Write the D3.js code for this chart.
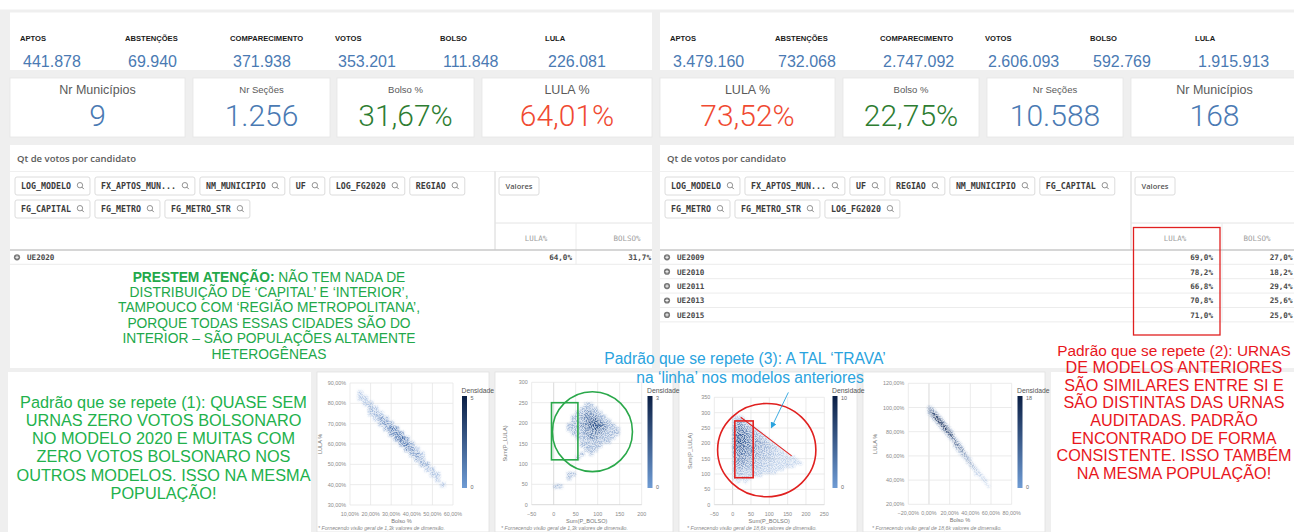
<!DOCTYPE html>
<html><head><meta charset="utf-8">
<script src="https://cdn.jsdelivr.net/npm/d3@7"></script>
<style>html,body{margin:0;padding:0;background:#fff;overflow:hidden}svg{display:block}</style>
</head><body>
<svg id="c" width="1294" height="532"></svg>
<script>
// ---------------- DATA ----------------
const kpiLabels = ["APTOS","ABSTENÇÕES","COMPARECIMENTO","VOTOS","BOLSO","LULA"];
const kpiLeftValues = [441878, 69940, 371938, 353201, 111848, 226081];
const kpiRightValues = [3479160, 732068, 2747092, 2606093, 592769, 1915913];
const cardLeftTitles = ["Nr Municípios","Nr Seções","Bolso %","LULA %"];
const cardLeftValues = [9, 1256, 31.67, 64.01];
const cardRightTitles = ["LULA %","Bolso %","Nr Seções","Nr Municípios"];
const cardRightValues = [73.52, 22.75, 10588, 168];
const chipsLeft = ["LOG_MODELO","FX_APTOS_MUN...","NM_MUNICIPIO","UF","LOG_FG2020","REGIAO","FG_CAPITAL","FG_METRO","FG_METRO_STR"];
const chipsRight = ["LOG_MODELO","FX_APTOS_MUN...","UF","REGIAO","NM_MUNICIPIO","FG_CAPITAL","FG_METRO","FG_METRO_STR","LOG_FG2020"];
const measureCols = ["LULA%","BOLSO%"];
const modelsLeft = ["UE2020"];
const lulaPctLeft = [64.0];
const bolsoPctLeft = [31.7];
const modelsRight = ["UE2009","UE2010","UE2011","UE2013","UE2015"];
const lulaPctRight = [69.0, 78.2, 66.8, 70.8, 71.0];
const bolsoPctRight = [27.0, 18.2, 29.4, 25.6, 25.0];

// chart 1: [Bolso %, LULA %, density]  (UE2020, 1,3k)
const chart1Cells = [
 [15,82.5,1],[15,85,1],[17.5,80,1],[17.5,82.5,1],[20,77.5,2],[20,80,1],[20,75,1],
 [22.5,75,2],[22.5,77.5,1],[22.5,72.5,1],[25,72.5,3],[25,75,1],[25,70,2],
 [27.5,70,3],[27.5,72.5,2],[27.5,67.5,2],[30,67.5,4],[30,70,2],[30,65,3],
 [32.5,65,4],[32.5,67.5,3],[32.5,62.5,3],[35,62.5,5],[35,65,3],[35,60,3],
 [37.5,60,4],[37.5,62.5,3],[37.5,57.5,3],[40,57.5,3],[40,60,2],[40,55,2],
 [42.5,55,3],[42.5,57.5,1],[42.5,52.5,2],[45,52.5,2],[45,55,1],[45,50,2],
 [47.5,50,2],[47.5,47.5,1],[50,47.5,1],[50,45,1],[52.5,42.5,1],[52.5,45,1],[55,40,1]
];
// chart 2: [Sum(P_BOLSO), Sum(P_LULA), density]
const chart2Cells = [
 [75,245,1],[85,245,1],
 [65,235,1],[75,235,1],[85,235,1],[95,235,1],
 [55,225,1],[65,225,1],[75,225,2],[85,225,2],[95,225,1],[105,225,1],
 [45,215,1],[55,215,1],[65,215,2],[75,215,2],[85,215,2],[95,215,2],[105,215,1],[115,215,1],
 [45,205,1],[55,205,1],[65,205,1],[75,205,2],[85,205,3],[95,205,3],[105,205,2],[115,205,1],[125,205,1],
 [35,195,1],[45,195,1],[55,195,1],[65,195,2],[75,195,2],[85,195,3],[95,195,3],[105,195,3],[115,195,2],[125,195,1],[135,195,1],
 [35,185,1],[45,185,1],[55,185,1],[65,185,1],[75,185,2],[85,185,2],[95,185,3],[105,185,2],[115,185,2],[125,185,1],[135,185,1],[145,185,1],
 [45,175,1],[55,175,1],[65,175,1],[75,175,2],[85,175,2],[95,175,2],[105,175,2],[115,175,1],[125,175,1],[135,175,1],[145,175,1],
 [55,165,1],[65,165,1],[75,165,1],[85,165,2],[95,165,2],[105,165,1],[115,165,1],[125,165,1],[135,165,1],
 [65,155,1],[75,155,1],[85,155,1],[95,155,1],[105,155,1],[115,155,1],[125,155,1],
 [65,145,1],[75,145,1],[85,145,1],[95,145,1],[105,145,1],
 [75,135,1],[85,135,1],[95,135,1],[65,125,1],[85,125,1],[55,115,1],
 [35,75,1],[45,75,1],[35,65,1],[5,45,1],[15,45,1]
];
// chart 3: density grid, Sum(P_BOLSO) bins x Sum(P_LULA) bins
const chart3XBins = [5,15,25,35,45,55,65,75,85,95,105,115,125,135,145,155,165,175,185,195];
const chart3YBins = [285,275,265,255,245,235,225,215,205,195,185,175,165,155,145,135,125,115,105,95,85,75];
const chart3Density = [
 [1,2,1,0,0,0,0,0,0,0,0,0,0,0,0,0,0,0,0,0],
 [2,4,3,1,0,0,0,0,0,0,0,0,0,0,0,0,0,0,0,0],
 [3,6,5,3,1,0,0,0,0,0,0,0,0,0,0,0,0,0,0,0],
 [4,7,7,5,3,1,0,0,0,0,0,0,0,0,0,0,0,0,0,0],
 [5,8,8,6,4,3,1,0,0,0,0,0,0,0,0,0,0,0,0,0],
 [6,9,9,7,5,4,3,1,0,0,0,0,0,0,0,0,0,0,0,0],
 [6,9,9,8,6,5,4,3,1,0,0,0,0,0,0,0,0,0,0,0],
 [7,10,9,8,7,6,5,4,3,1,0,0,0,0,0,0,0,0,0,0],
 [7,10,10,8,7,6,6,5,4,2,1,0,0,0,0,0,0,0,0,0],
 [7,9,9,8,7,6,6,5,4,3,2,1,0,0,0,0,0,0,0,0],
 [6,9,9,8,7,6,5,5,4,3,3,2,1,0,0,0,0,0,0,0],
 [6,8,8,7,6,6,5,4,4,3,3,2,2,1,0,0,0,0,0,0],
 [5,8,8,7,6,5,5,4,3,3,2,2,2,1,1,0,0,0,0,0],
 [5,7,7,6,5,5,4,4,3,3,2,2,1,1,1,1,1,0,0,0],
 [4,7,7,6,5,4,4,3,3,2,2,2,1,1,1,1,1,1,0,0],
 [4,6,6,5,4,4,3,3,2,2,2,1,1,1,1,1,1,1,1,0],
 [3,5,5,4,4,3,3,2,2,2,1,1,1,1,1,1,1,0,0,0],
 [2,4,4,3,3,2,2,2,1,1,1,1,1,1,0,0,0,0,0,0],
 [2,3,3,2,2,2,1,1,1,1,1,1,0,0,0,0,0,0,0,0],
 [1,2,2,1,1,1,1,1,0,0,0,0,0,0,0,0,0,0,0,0],
 [1,1,1,1,1,0,0,0,0,0,0,0,0,0,0,0,0,0,0,0],
 [0,1,0,1,0,0,0,0,0,0,0,0,0,0,0,0,0,0,0,0]
];
// chart 4: [Bolso %, LULA %, density]  (18,6k)
const chart4Cells = [
 [0,100,6],[0,97.5,8],[0,95,3],
 [2.5,97.5,12],[2.5,95,14],[2.5,100,4],[2.5,92.5,4],
 [5,95,15],[5,92.5,16],[5,97.5,5],[5,90,5],
 [7.5,92.5,17],[7.5,90,18],[7.5,95,6],[7.5,87.5,5],
 [10,90,18],[10,87.5,17],[10,92.5,6],[10,85,5],
 [12.5,87.5,18],[12.5,85,16],[12.5,90,6],[12.5,82.5,5],
 [15,85,17],[15,82.5,16],[15,87.5,5],[15,80,5],
 [17.5,82.5,16],[17.5,80,15],[17.5,85,5],[17.5,77.5,4],
 [20,80,15],[20,77.5,14],[20,82.5,4],[20,75,4],
 [22.5,77.5,14],[22.5,75,13],[22.5,72.5,4],[22.5,80,3],
 [25,72.5,13],[25,70,11],[25,75,5],[25,67.5,3],
 [27.5,70,12],[27.5,67.5,10],[27.5,72.5,4],[27.5,65,3],
 [30,67.5,11],[30,65,9],[30,70,3],[30,62.5,3],
 [32.5,65,10],[32.5,62.5,8],[32.5,60,3],[32.5,67.5,2],
 [35,60,8],[35,62.5,7],[35,57.5,3],
 [37.5,57.5,7],[37.5,55,6],[37.5,60,2],[40,55,6],[40,52.5,5],[40,57.5,1],
 [42.5,52.5,5],[42.5,50,4],[45,50,3],[45,47.5,3],[45,45,1],[47.5,47.5,2],[47.5,45,2],
 [50,45,2],[50,42.5,1],[52.5,42.5,1],[52.5,40,1],[55,40,1],[55,37.5,1],[57.5,35,1]
];
const densityMax = [5, 3, 10, 18];
// annotations (data units)
const chart2Box = [-5, 55, 110, 250];
const chart2Circle = [88, 179, 91, 98];
const chart3Box = [6, 56, 88, 273];
const chart3Circle = [93, 178, 134, 152];
const chart3Line = [[22, 285], [161, 159]];
const chart3Arrow = [[152, 366], [106, 252]];

const noteTable = ["NÃO TEM NADA DE","DISTRIBUIÇÃO DE ‘CAPITAL’ E ‘INTERIOR’,","TAMPOUCO COM ‘REGIÃO METROPOLITANA’,","PORQUE TODAS ESSAS CIDADES SÃO DO","INTERIOR – SÃO POPULAÇÕES ALTAMENTE","HETEROGÊNEAS"];
const noteGreen = ["Padrão que se repete (1): QUASE SEM","URNAS ZERO VOTOS BOLSONARO","NO MODELO 2020 E MUITAS COM","ZERO VOTOS BOLSONARO NOS","OUTROS MODELOS. ISSO NA MESMA","POPULAÇÃO!"];
const noteBlue = ["Padrão que se repete (3): A TAL ‘TRAVA’","na ‘linha’ nos modelos anteriores"];
const noteRed = ["Padrão que se repete (2): URNAS","DE MODELOS ANTERIORES","SÃO SIMILARES ENTRE SI E","SÃO DISTINTAS DAS URNAS","AUDITADAS. PADRÃO","ENCONTRADO DE FORMA","CONSISTENTE. ISSO TAMBÉM","NA MESMA POPULAÇÃO!"];

// ---------------- DRAW ----------------
const loc = d3.formatLocale({decimal:",", thousands:".", grouping:[3], currency:["R$",""]});
const fInt = loc.format(",d");
const fP2 = v => loc.format(".2f")(v) + "%";
const fP1 = v => loc.format(".1f")(v) + "%";
const SANS = "'Liberation Sans', Arial, sans-serif";
const MONO = "'DejaVu Sans Mono', monospace";
const BLUE = "#4a7ab3", GREEN = "#2e7d32", RED = "#f04a32";

const svg = d3.select("#c");
const defs = svg.append("defs");
svg.append("rect").attr("width",1294).attr("height",532).attr("fill","#efefef");
svg.append("rect").attr("width",1294).attr("height",9.5).attr("fill","#fff");
function panel(x,y,w,h,stroke){
  return svg.append("rect").attr("x",x).attr("y",y).attr("width",w).attr("height",h)
    .attr("fill","#fff").attr("stroke",stroke||"none").attr("stroke-width",0.8);
}

// top KPI strips
[[10, kpiLeftValues],[660, kpiRightValues]].forEach(([px, vals]) => {
  panel(px, 12.5, px===10?642:640, 57.5);
  const g = svg.append("g");
  g.selectAll("text.l").data(kpiLabels).join("text").attr("class","l")
    .attr("x",(d,i)=>px+10+i*105).attr("y",40.5).text(d=>d)
    .attr("font-family",SANS).attr("font-weight","bold").attr("font-size",7.6).attr("fill","#1a1a1a");
  g.selectAll("text.v").data(vals).join("text").attr("class","v")
    .attr("x",(d,i)=>px+13+i*105).attr("y",67).text(d=>fInt(d))
    .attr("font-family",SANS).attr("font-size",16).attr("fill",BLUE);
});

// KPI cards
const cardsL = [[10,185],[193,330],[337,474],[482,652]];
const cardsR = [[660,835],[843,979],[987,1123],[1131,1300]];
function card(box, title, value, kind){
  panel(box[0],78,box[1]-box[0],59,"#e6e6e6");
  const cx = box[1] > 1294 ? (box[0]+1294)/2 + 2 : (box[0]+box[1])/2;
  const big = (title==="Nr Municípios"||title==="LULA %");
  svg.append("text").attr("x",cx).attr("y",big?93.5:92.5).attr("text-anchor","middle")
    .attr("font-family",SANS).attr("font-size",big?12.5:9.5).attr("fill","#5a5a5a").text(title);
  let txt, col;
  if (kind==="pct") { txt = fP2(value); col = title.startsWith("LULA")?RED:GREEN; }
  else { txt = fInt(value); col = BLUE; }
  svg.append("text").attr("x",cx).attr("y",126).attr("text-anchor","middle")
    .attr("font-family","Roboto, sans-serif").attr("font-weight",300).attr("font-size",30).attr("fill",col).text(txt);
}
const kindsL = ["int","int","pct","pct"], kindsR = ["pct","pct","int","int"];
cardsL.forEach((b,i)=>card(b, cardLeftTitles[i], cardLeftValues[i], kindsL[i]));
cardsR.forEach((b,i)=>card(b, cardRightTitles[i], cardRightValues[i], kindsR[i]));

// tables
function table(px, pw, divX, sepX, chips, rows, lula, bolso, lulaRX, bolsoRX, lulaCX, bolsoCX){
  panel(px,145,pw,223);
  const g = svg.append("g");
  g.append("text").attr("x",px+7).attr("y",161.5).text("Qt de votos por candidato")
    .attr("font-family","'Open Sans', sans-serif").attr("font-weight",600).attr("font-size",9.5).attr("fill","#5a5a5a");
  g.append("line").attr("x1",px).attr("x2",px+pw).attr("y1",171.5).attr("y2",171.5).attr("stroke","#f0f0f0");
  g.append("line").attr("x1",divX).attr("x2",divX).attr("y1",171.5).attr("y2",250).attr("stroke","#d6d6d6");
  let cx = px+5, cy = 177;
  chips.forEach((c,i)=>{
    if (i===6){ cx = px+5; cy = 200; }
    const cg = g.append("g");
    const t = cg.append("text").attr("x",cx+6).attr("y",cy+12).text(c)
      .attr("font-family",MONO).attr("font-weight","bold").attr("font-size",8.3).attr("fill","#3c3c3c");
    const tw = t.node().getComputedTextLength();
    const w = tw + 25;
    cg.insert("rect","text").attr("x",cx).attr("y",cy).attr("width",w).attr("height",18).attr("rx",2)
      .attr("fill","#fff").attr("stroke","#dcdcdc");
    const ix = cx + w - 10, iy = cy + 8.2;
    cg.append("circle").attr("cx",ix).attr("cy",iy).attr("r",2.7).attr("fill","none").attr("stroke","#777").attr("stroke-width",0.8);
    cg.append("line").attr("x1",ix+1.8).attr("y1",iy+1.8).attr("x2",ix+3.9).attr("y2",iy+3.9).attr("stroke","#777").attr("stroke-width",0.9);
    cx += w + 5;
  });
  g.append("rect").attr("x",divX+4).attr("y",177).attr("width",40).attr("height",18).attr("rx",2).attr("fill","#fff").attr("stroke","#dcdcdc");
  g.append("text").attr("x",divX+24).attr("y",189).attr("text-anchor","middle").text("Valores")
    .attr("font-family","'Open Sans', sans-serif").attr("font-weight",600).attr("font-size",7.5).attr("fill","#555");
  g.append("line").attr("x1",divX).attr("x2",px+pw).attr("y1",223).attr("y2",223).attr("stroke","#e4e4e4");
  g.append("line").attr("x1",sepX).attr("x2",sepX).attr("y1",223).attr("y2",250+rows.length*14.5).attr("stroke","#ececec");
  g.selectAll("text.h").data(measureCols).join("text").attr("class","h")
    .attr("x",(d,i)=>i?bolsoCX:lulaCX).attr("y",241).attr("text-anchor","middle").text(d=>d)
    .attr("font-family",MONO).attr("font-size",7.5).attr("fill","#a0a0a0");
  g.append("line").attr("x1",px).attr("x2",px+pw).attr("y1",250).attr("y2",250).attr("stroke","#c8c8c8").attr("stroke-width",1.4);
  rows.forEach((r,i)=>{
    const yc = 257.3 + i*14.4;
    g.append("circle").attr("cx",px+7).attr("cy",yc).attr("r",3.1).attr("fill","#777");
    g.append("path").attr("d",`M${px+5.3},${yc}h3.4M${px+7},${yc-1.7}v3.4`).attr("stroke","#fff").attr("stroke-width",0.9);
    g.append("text").attr("x",px+17).attr("y",yc+2.8).text(r)
      .attr("font-family",MONO).attr("font-weight","bold").attr("font-size",7.6).attr("fill","#4a4a4a");
    g.append("text").attr("x",lulaRX).attr("y",yc+2.8).attr("text-anchor","end").text(fP1(lula[i]))
      .attr("font-family",MONO).attr("font-weight","bold").attr("font-size",7.6).attr("fill","#4a4a4a");
    g.append("text").attr("x",bolsoRX).attr("y",yc+2.8).attr("text-anchor","end").text(fP1(bolso[i]))
      .attr("font-family",MONO).attr("font-weight","bold").attr("font-size",7.6).attr("fill","#4a4a4a");
    g.append("line").attr("x1",px).attr("x2",px+pw).attr("y1",yc+7).attr("y2",yc+7).attr("stroke","#ececec");
  });
}
table(10, 642, 495, 576, chipsLeft, modelsLeft, lulaPctLeft, bolsoPctLeft, 572, 651, 536, 627);
table(660, 640, 1131, 1222, chipsRight, modelsRight, lulaPctRight, bolsoPctRight, 1213, 1292.5, 1175, 1257);
svg.append("rect").attr("x",1133.5).attr("y",227.5).attr("width",86.5).attr("height",107.5)
  .attr("fill","none").attr("stroke","#e02020").attr("stroke-width",1.3);

// bottom panels
panel(8,372,303,160);
panel(1051,372,249,160);
const chartPanels = [[317,172],[495,178],[679,178],[863,182]];
chartPanels.forEach(p=>panel(p[0],372,p[1],160,"#e2e2e2"));

// speckle filter for the density clouds
function speckle(id, x0, y0, w, h){
  const f = defs.append("filter").attr("id",id).attr("filterUnits","userSpaceOnUse")
    .attr("x",x0).attr("y",y0).attr("width",w).attr("height",h);
  f.append("feGaussianBlur").attr("in","SourceGraphic").attr("stdDeviation",1.2).attr("result","b");
  f.append("feTurbulence").attr("type","fractalNoise").attr("baseFrequency",0.9).attr("numOctaves",2).attr("seed",7).attr("result","n");
  f.append("feColorMatrix").attr("in","n").attr("type","matrix")
    .attr("values","0 0 0 0 1  0 0 0 0 1  0 0 0 0 1  4 0 0 0 -1.6").attr("result","m");
  f.append("feComposite").attr("in","b").attr("in2","m").attr("operator","arithmetic")
    .attr("k1",0.75).attr("k2",0.35).attr("k3",0).attr("k4",0);
}

function scatter(cfg){
  const x = d3.scaleLinear().domain(cfg.xd).range(cfg.xr);
  const y = d3.scaleLinear().domain(cfg.yd).range(cfg.yr);
  const g = svg.append("g");
  const xt = d3.range(cfg.xd[0], cfg.xd[1]+1e-9, cfg.xs);
  const yt = d3.range(cfg.yd[0], cfg.yd[1]+1e-9, cfg.ys);
  g.selectAll("line.gx").data(xt).join("line").attr("x1",d=>x(d)).attr("x2",d=>x(d))
    .attr("y1",cfg.yr[1]).attr("y2",cfg.yr[0]).attr("stroke",d=>d===0?"#cfcfcf":"#e6e6e6").attr("stroke-width",0.8);
  g.selectAll("line.gy").data(yt).join("line").attr("y1",d=>y(d)).attr("y2",d=>y(d))
    .attr("x1",cfg.xr[0]).attr("x2",cfg.xr[1]).attr("stroke",d=>d===0?"#cfcfcf":"#e6e6e6").attr("stroke-width",0.8);
  g.selectAll("text.tx").data(xt).join("text").attr("x",d=>x(d)).attr("y",cfg.yr[0]+11)
    .attr("text-anchor","middle").text(cfg.fmt).attr("font-family",SANS).attr("font-size",5.4).attr("fill","#8a8a8a");
  g.selectAll("text.ty").data(yt).join("text").attr("x",cfg.xr[0]-4).attr("y",d=>y(d)+2)
    .attr("text-anchor","end").text(cfg.fmt).attr("font-family",SANS).attr("font-size",5.4).attr("fill","#8a8a8a");
  g.append("text").attr("x",(cfg.xr[0]+cfg.xr[1])/2).attr("y",cfg.yr[0]+18).attr("text-anchor","middle")
    .text(cfg.xTitle).attr("font-family",SANS).attr("font-size",5.6).attr("fill","#777");
  g.append("text").attr("transform",`translate(${cfg.yTitleX},${(cfg.yr[0]+cfg.yr[1])/2}) rotate(-90)`)
    .attr("text-anchor","middle").text(cfg.yTitle).attr("font-family",SANS).attr("font-size",5.6).attr("fill","#777");
  const col = d3.scaleLinear().domain([0,cfg.max]).range(["#9dbbe4",cfg.top]);
  const cw = x(cfg.sx)-x(0), ch = y(0)-y(cfg.sy);
  const fid = "sp"+cfg.id;
  speckle(fid, cfg.xr[0]-10, cfg.yr[1]-10, cfg.xr[1]-cfg.xr[0]+20, cfg.yr[0]-cfg.yr[1]+20);
  const cg = g.append("g").attr("filter",`url(#${fid})`);
  cg.selectAll("rect.c").data(cfg.cells).join("rect")
    .attr("x",d=>x(d[0])-cw/2).attr("y",d=>y(d[1])-ch/2).attr("width",cw).attr("height",ch)
    .attr("fill",d=>col(d[2])).attr("fill-opacity",d=>Math.min(1,0.45+0.6*d[2]/cfg.max));
  const gid = "grad"+cfg.id;
  const gr = defs.append("linearGradient").attr("id",gid).attr("x1",0).attr("x2",0).attr("y1",0).attr("y2",1);
  gr.append("stop").attr("offset",0).attr("stop-color","#0b1f45");
  gr.append("stop").attr("offset",1).attr("stop-color","#6e9bd4");
  g.append("text").attr("x",cfg.lx).attr("y",392.5).text("Densidade").attr("font-family",SANS).attr("font-size",6.8).attr("fill","#555");
  g.append("rect").attr("x",cfg.lx+0.5).attr("y",396).attr("width",5).attr("height",92).attr("fill",`url(#${gid})`);
  g.append("text").attr("x",cfg.lx+9).attr("y",399.5).text(cfg.max).attr("font-family",SANS).attr("font-size",5.4).attr("fill","#666");
  g.append("text").attr("x",cfg.lx+9).attr("y",489).text("0").attr("font-family",SANS).attr("font-size",5.4).attr("fill","#666");
  g.append("text").attr("x",cfg.fx).attr("y",529.5).text(cfg.foot).attr("font-family",SANS)
    .attr("font-style","italic").attr("font-size",5.2).attr("fill","#8a8a8a");
  return {x,y,g};
}
const pct = d => loc.format(".2f")(d)+"%";
const num = d => d3.format("d")(d);
scatter({id:1, xd:[10,60], xr:[350,453], yd:[30,90], yr:[505,383], xs:10, ys:10, fmt:pct, top:"#3a63a3",
  cells:chart1Cells, sx:2.5, sy:2.5, max:densityMax[0], xTitle:"Bolso %", yTitle:"LULA %", yTitleX:322,
  lx:461.5, fx:318, foot:"* Fornecendo visão geral de 1,3k valores de dimensão."});
const c2 = scatter({id:2, xd:[-50,200], xr:[531.7,641.7], yd:[0,300], yr:[504.7,382.3], xs:50, ys:50, fmt:num, top:"#34598f",
  cells:chart2Cells, sx:10, sy:10, max:densityMax[1], xTitle:"Sum(P_BOLSO)", yTitle:"Sum(P_LULA)", yTitleX:507,
  lx:647, fx:501, foot:"* Fornecendo visão geral de 1,3k valores de dimensão."});
const chart3Cells = chart3YBins.flatMap((yv,i)=>chart3Density[i].map((d,j)=>[chart3XBins[j],yv,d])).filter(d=>d[2]>0);
const c3 = scatter({id:3, xd:[-50,250], xr:[714.3,824.3], yd:[0,350], yr:[504.7,397.3], xs:50, ys:50, fmt:num, top:"#2c538f",
  cells:chart3Cells, sx:10, sy:10, max:densityMax[2], xTitle:"Sum(P_BOLSO)", yTitle:"Sum(P_LULA)", yTitleX:692,
  lx:832, fx:687, foot:"* Fornecendo visão geral de 18,6k valores de dimensão."});
scatter({id:4, xd:[-20,80], xr:[908.3,1011.7], yd:[20,120], yr:[504.3,383.3], xs:20, ys:20, fmt:pct, top:"#0e2654",
  cells:chart4Cells, sx:2.5, sy:2.5, max:densityMax[3], xTitle:"Bolso %", yTitle:"LULA %", yTitleX:877,
  lx:1017, fx:872, foot:"* Fornecendo visão geral de 18,6k valores de dimensão."});

// annotations on charts
const GR = "#2aa84a", RD = "#e0201f", BL = "#2aa3de";
c2.g.append("rect").attr("x",c2.x(chart2Box[0])).attr("y",c2.y(chart2Box[3]))
  .attr("width",c2.x(chart2Box[1])-c2.x(chart2Box[0])).attr("height",c2.y(chart2Box[2])-c2.y(chart2Box[3]))
  .attr("fill","none").attr("stroke",GR).attr("stroke-width",1.6);
c2.g.append("ellipse").attr("cx",c2.x(chart2Circle[0])).attr("cy",c2.y(chart2Circle[1]))
  .attr("rx",c2.x(chart2Circle[2])-c2.x(0)).attr("ry",c2.y(0)-c2.y(chart2Circle[3]))
  .attr("fill","none").attr("stroke",GR).attr("stroke-width",1.6);
c3.g.append("rect").attr("x",c3.x(chart3Box[0])).attr("y",c3.y(chart3Box[3]))
  .attr("width",c3.x(chart3Box[1])-c3.x(chart3Box[0])).attr("height",c3.y(chart3Box[2])-c3.y(chart3Box[3]))
  .attr("fill","none").attr("stroke",RD).attr("stroke-width",1.6);
c3.g.append("ellipse").attr("cx",c3.x(chart3Circle[0])).attr("cy",c3.y(chart3Circle[1]))
  .attr("rx",c3.x(chart3Circle[2])-c3.x(0)).attr("ry",c3.y(0)-c3.y(chart3Circle[3]))
  .attr("fill","none").attr("stroke",RD).attr("stroke-width",1.6);
c3.g.append("line").attr("x1",c3.x(chart3Line[0][0])).attr("y1",c3.y(chart3Line[0][1]))
  .attr("x2",c3.x(chart3Line[1][0])).attr("y2",c3.y(chart3Line[1][1])).attr("stroke",RD).attr("stroke-width",1.1);
defs.append("marker").attr("id","arr").attr("viewBox","0 0 10 10").attr("refX",8).attr("refY",5)
  .attr("markerWidth",7).attr("markerHeight",7).attr("orient","auto")
  .append("path").attr("d","M0,0L10,5L0,10z").attr("fill",BL);
c3.g.append("line").attr("x1",c3.x(chart3Arrow[0][0])).attr("y1",c3.y(chart3Arrow[0][1]))
  .attr("x2",c3.x(chart3Arrow[1][0])).attr("y2",c3.y(chart3Arrow[1][1])).attr("stroke",BL).attr("stroke-width",0.9)
  .attr("marker-end","url(#arr)");

// text notes
const tn = svg.append("text").attr("text-anchor","middle").attr("font-family",SANS).attr("font-size",13.8).attr("fill","#22a84a");
noteTable.forEach((s,i)=>{
  const ts = tn.append("tspan").attr("x",269).attr("y",281.7+i*15.2+(i>=3?0.8:0));
  if(i===0){ ts.append("tspan").attr("font-weight","bold").text("PRESTEM ATENÇÃO: "); ts.append("tspan").text(s); }
  else ts.text(s);
});
const tg = svg.append("text").attr("text-anchor","middle").attr("font-family",SANS).attr("font-size",16.3).attr("fill","#22b14c");
noteGreen.forEach((s,i)=>tg.append("tspan").attr("x",163.5).attr("y",407.5+i*18.3).text(s));
const tb = svg.append("text").attr("text-anchor","middle").attr("font-family",SANS).attr("font-size",15.6).attr("fill",BL);
noteBlue.forEach((s,i)=>tb.append("tspan").attr("x",i?750:745).attr("y",364+i*18.5).text(s));
const tr = svg.append("text").attr("text-anchor","middle").attr("font-family",SANS).attr("font-size",16.2).attr("fill","#e8161c");
noteRed.forEach((s,i)=>{
  const t = tr.append("tspan").attr("x",1174).attr("y",355.5+i*17.6).text(s);
  if (i===0) t.attr("font-size",15.4);
});
</script>
</body></html>
